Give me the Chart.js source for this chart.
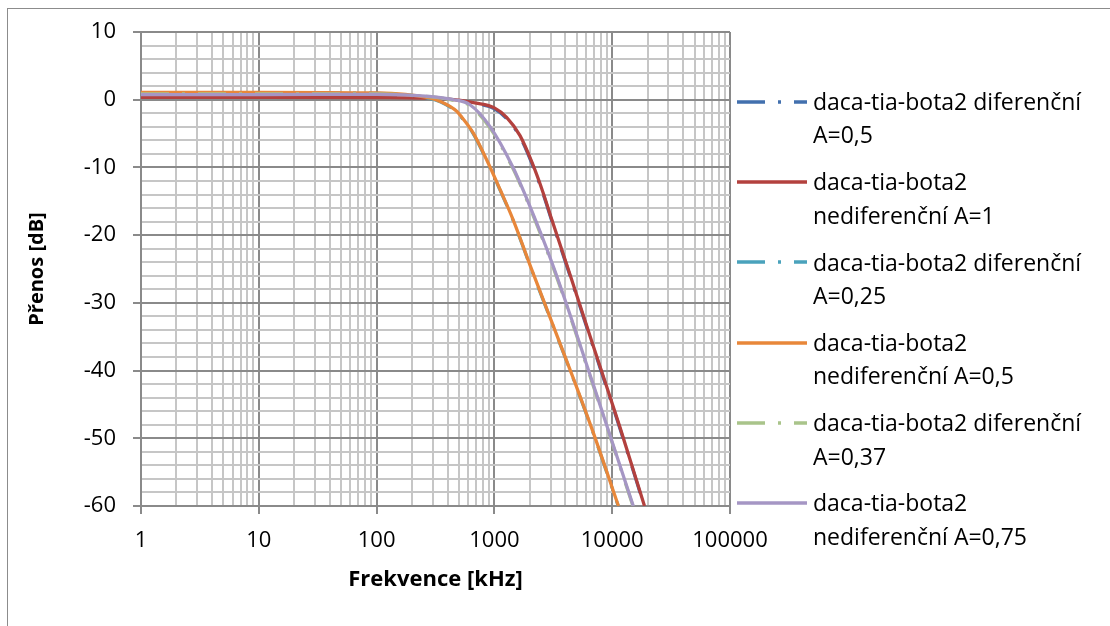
<!DOCTYPE html>
<html>
<head>
<meta charset="utf-8">
<script src="https://cdn.jsdelivr.net/npm/chart.js@4.4.1/dist/chart.umd.min.js"></script>
<style>
html,body{margin:0;padding:0;background:#fff;}
#wrap{position:relative;width:1110px;height:626px;overflow:hidden;font-family:'Open Sans',sans-serif;background:#fff;}
#frame{position:absolute;left:7px;top:8px;width:1300px;height:800px;border-left:1px solid #8c8c8c;border-top:1px solid #8c8c8c;}
#c{position:absolute;left:0;top:0;}
.sw{position:absolute;left:736px;width:72px;height:8px;}
.lt{position:absolute;left:813px;font-size:23px;line-height:33.5px;color:#000;white-space:nowrap;}
</style>
</head>
<body>
<div id="wrap">
  <div id="frame"></div>
  <canvas id="c" width="1110" height="626"></canvas>
  <div id="legend"></div>
</div>
<script>
// ---- tick labels ----
const xTickLabels = ['1','10','100','1000','10000','100000'];
const yTickLabels = ['-60','-50','-40','-30','-20','-10','0','10'];

// ---- series: frequency [kHz] and transfer [dB] ----
// daca-tia-bota2 diferenční A=0,5 (mostly hidden under A=1 curve)
const freqDif05 = [1,10,100,400,700,1000,1270,1650,2090,2600,3070,4250,6710,11700,18700];
const dbDif05   = [0.4,0.4,0.35,0.1,-0.6,-1.35,-2.8,-5.5,-9.5,-14.0,-17.9,-25.3,-35.9,-48.7,-60];
// daca-tia-bota2 nediferenční A=1
const freqNed1 = [1,10,100,400,700,1000,1270,1650,2090,2600,3070,4250,6710,11700,18800];
const dbNed1   = [0.35,0.35,0.3,0.1,-0.5,-1.2,-2.6,-5.3,-9.3,-13.8,-17.7,-25.1,-35.7,-48.5,-60];
// daca-tia-bota2 diferenční A=0,25 (mostly hidden under nediferenční A=0,5)
const freqDif025 = [1,10,100,282,347,479,513,660,861,1120,1440,2075,4740,6920,11250];
const dbDif025   = [1.0,1.0,0.95,0.2,-0.3,-1.8,-2.4,-5.0,-9.0,-13.4,-17.8,-25.2,-41.5,-49.3,-60];
// daca-tia-bota2 nediferenční A=0,5
const freqNed05 = [1,10,100,282,347,479,513,660,861,1120,1440,2075,4740,6920,11300];
const dbNed05   = [1.1,1.1,1.0,0.25,-0.25,-1.7,-2.3,-4.9,-8.9,-13.3,-17.7,-25.1,-41.4,-49.2,-60];
// daca-tia-bota2 diferenční A=0,37 (mostly hidden under nediferenční A=0,75)
const freqDif037 = [1,10,100,280,450,620,912,1440,1860,3160,6710,15000];
const dbDif037   = [0.85,0.85,0.85,0.45,-0.1,-0.9,-4.1,-10.2,-14.6,-24.8,-41.6,-60];
// daca-tia-bota2 nediferenční A=0,75
const freqNed075 = [1,10,100,280,450,620,912,1440,1860,3160,6710,15100];
const dbNed075   = [0.75,0.75,0.8,0.5,0.0,-0.74,-3.9,-10.0,-14.4,-24.6,-41.4,-60];

const legendLines = [
  ['daca-tia-bota2 diferenční','A=0,5'],
  ['daca-tia-bota2','nediferenční A=1'],
  ['daca-tia-bota2 diferenční','A=0,25'],
  ['daca-tia-bota2','nediferenční A=0,5'],
  ['daca-tia-bota2 diferenční','A=0,37'],
  ['daca-tia-bota2','nediferenční A=0,75']
];

const seriesF = [freqDif05, freqNed1, freqDif025, freqNed05, freqDif037, freqNed075];
const seriesY = [dbDif05, dbNed1, dbDif025, dbNed05, dbDif037, dbNed075];
const colors = ['#4270ae','#b3413e','#4aa2bc','#e8873a','#a9c48a','#a596c4'];
const dashed = [true,false,true,false,true,false];
const DASH = [28,13,3,13];

const datasets = seriesF.map((f,i)=>({
  label: legendLines[i].join(' '),
  data: f.map((x,j)=>({x:x, y:seriesY[i][j]})),
  borderColor: colors[i],
  backgroundColor: colors[i],
  borderWidth: 3.25,
  borderDash: dashed[i] ? DASH : [],
  pointRadius: 0,
  cubicInterpolationMode: 'monotone',
  fill: false,
  order: seriesF.length - 1 - i
}));

// grid line positions on the log axis (1..9 per decade)
const xGrid = [];
for (let e = 0; e < xTickLabels.length - 1; e++) {
  for (let m = 1; m <= 9; m++) xGrid.push(m * Math.pow(10, e));
}
xGrid.push(Math.pow(10, xTickLabels.length - 1));

const MAJOR = '#8a8a8a', MINOR = '#c6c6c6';
const isDecade = v => Math.abs(Math.log10(v) - Math.round(Math.log10(v))) < 1e-9;

const chart = new Chart(document.getElementById('c'), {
  type: 'line',
  data: { datasets },
  options: {
    responsive: false,
    animation: false,
    events: [],
    layout: { padding: { left: 0, top: 32, right: 380, bottom: 0 } },
    plugins: { legend: { display: false }, tooltip: { enabled: false } },
    scales: {
      x: {
        type: 'logarithmic',
        min: 1, max: 100000,
        afterBuildTicks: s => { s.ticks = xGrid.map(v => ({ value: v })); },
        afterFit: s => { s.height = 120; s.paddingLeft = 0; s.paddingRight = 0; },
        ticks: {
          autoSkip: false, maxRotation: 0, padding: 14,
          color: '#000', font: { family: 'Open Sans', size: 22 },
          callback: v => isDecade(v) ? xTickLabels[Math.round(Math.log10(v))] : ''
        },
        grid: {
          color: c => (c.tick && isDecade(c.tick.value)) ? MAJOR : MINOR,
          tickColor: c => (c.tick && isDecade(c.tick.value)) ? MAJOR : 'rgba(0,0,0,0)',
          lineWidth: 2, tickLength: 8, drawTicks: true
        },
        border: { display: true, color: MAJOR, width: 2 },
        title: {
          display: true, text: 'Frekvence [kHz]', color: '#000',
          font: { family: 'Open Sans', size: 22, weight: 'bold' },
          padding: { top: 0, bottom: 33 }
        }
      },
      y: {
        type: 'linear',
        min: -60, max: 10,
        afterFit: s => { s.width = 141; s.paddingTop = 0; s.paddingBottom = 0; },
        ticks: {
          stepSize: 2, autoSkip: false, padding: 17,
          color: '#000', font: { family: 'Open Sans', size: 22 },
          callback: v => (v % 10 === 0) ? yTickLabels[(v + 60) / 10] : ''
        },
        grid: {
          color: c => (c.tick && c.tick.value % 10 === 0) ? MAJOR : MINOR,
          tickColor: c => (c.tick && c.tick.value % 10 === 0) ? MAJOR : 'rgba(0,0,0,0)',
          lineWidth: 2, tickLength: 8, drawTicks: true
        },
        border: { display: true, color: MAJOR, width: 2 },
        title: {
          display: true, text: 'Přenos [dB]', color: '#000',
          font: { family: 'Open Sans', size: 20, weight: 'bold' },
          padding: { top: 25, bottom: 0 }
        }
      }
    }
  }
});

// HTML legend built from the datasets
const leg = document.getElementById('legend');
datasets.forEach((ds, i) => {
  const yc = 101.7 + 80.3 * i;
  const svgNS = 'http://www.w3.org/2000/svg';
  const svg = document.createElementNS(svgNS, 'svg');
  svg.setAttribute('class', 'sw');
  svg.setAttribute('width', '72'); svg.setAttribute('height', '8');
  svg.style.top = (yc - 4) + 'px';
  const ln = document.createElementNS(svgNS, 'line');
  ln.setAttribute('x1', '1'); ln.setAttribute('x2', '71');
  ln.setAttribute('y1', '4'); ln.setAttribute('y2', '4');
  ln.setAttribute('stroke', ds.borderColor);
  ln.setAttribute('stroke-width', '3.5');
  if (ds.borderDash.length) ln.setAttribute('stroke-dasharray', ds.borderDash.join(' '));
  svg.appendChild(ln);
  leg.appendChild(svg);
  const t = document.createElement('div');
  t.className = 'lt';
  t.style.top = (yc - 16.75) + 'px';
  t.innerHTML = legendLines[i].map(s => s.replace(/&/g,'&amp;')).join('<br>');
  leg.appendChild(t);
});
</script>
</body>
</html>
